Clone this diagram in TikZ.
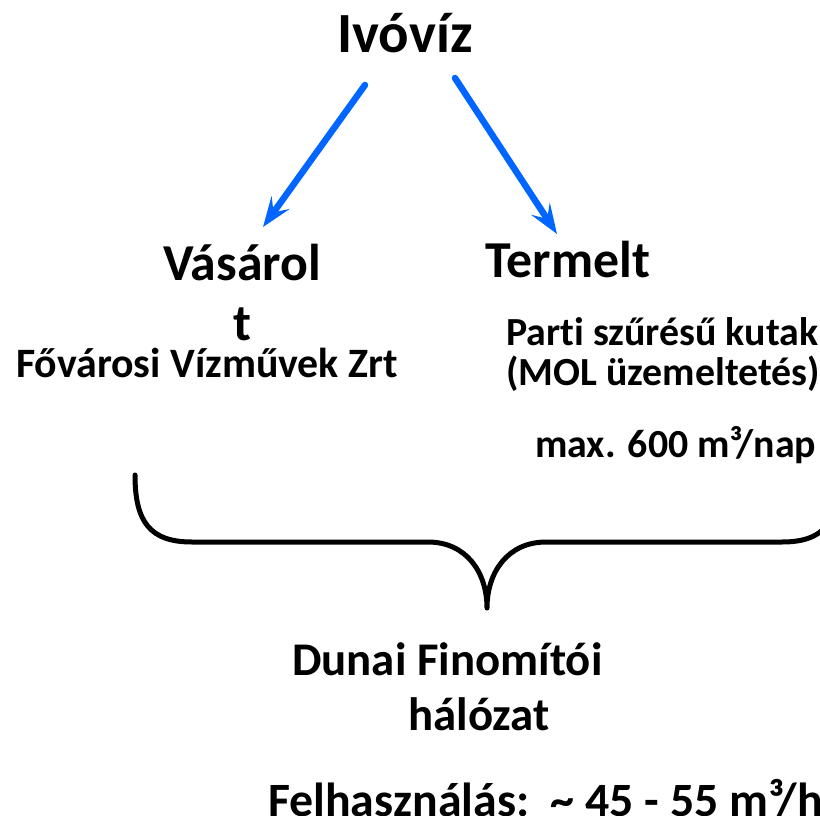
\documentclass[tikz,border=0pt]{standalone}
\usepackage{fontspec}
\setmainfont{Carlito}[Ligatures=NoCommon]
\usetikzlibrary{arrows.meta}
\definecolor{arrowblue}{RGB}{0,102,255}
\begin{document}
\begin{tikzpicture}[x=1bp, y=-1bp, line join=round, line cap=round,
	title/.style={inner sep=0pt, font=\fontsize{57}{64}\selectfont\bfseries},
	head/.style={inner sep=0pt, align=center, font=\fontsize{52}{60}\selectfont\bfseries},
	note/.style={inner sep=0pt, align=left, font=\fontsize{40}{40}\selectfont\bfseries},
	body/.style={inner sep=0pt, font=\fontsize{47}{55}\selectfont\bfseries},
	flow/.style={draw=arrowblue, line width=6.5bp, -{Stealth[length=30bp, width=22bp, inset=12bp]}},
	brace/.style={line width=5bp}]
	\def\W{820} \def\H{816}
	\useasboundingbox (0,0) rectangle (\W,\H);
	\clip (0,0) rectangle (\W,\H);
	% felso szint
	\node[title, anchor=base] (ivoviz) at (405,53) {Ivóvíz};
	\node[head, anchor=base] (vasarolt) at (242,340) {Vásárol\\t};
	\node[head, anchor=base] (termelt) at (568,277) {Termelt};
	\draw[flow] ([shift={(-40,32)}]ivoviz.base) -- ([shift={(21,-113)}]vasarolt.base);
	\draw[flow] ([shift={(50,25)}]ivoviz.base) -- ([shift={(-11,-43)}]termelt.base);
	% forrasok
	\node[note, font=\fontsize{42}{42}\selectfont\bfseries, anchor=base] (fovarosi) at (207,377) {Fővárosi Vízművek Zrt};
	\node[note, anchor=base west] (parti) at (506,385) {Parti szűrésű kutak\\(MOL üzemeltetés)};
	\node[note, anchor=base west] (kapacitas) at (535,457) {max. 600 m³/nap};
	% kapcsos zarojel
	\draw[brace] (135,475) .. controls (135,522) and (150,542) .. (192,542) -- (428,542)
		.. controls (466,542) and (487,572) .. (487,608)
		.. controls (487,572) and (508,542) .. (546,542) -- (782,542)
		.. controls (824,542) and (839,522) .. (839,475);
	% halozat
	\node[body, anchor=base west] (dunai) at (292,675) {Dunai Finomítói};
	\node[body, anchor=base west] (halozat) at (408,730) {hálózat};
	\node[body, font=\fontsize{48}{55}\selectfont\bfseries, anchor=base west] (felhasznalas) at (268,816) {Felhasználás:\ \ \textasciitilde\ 45 - 55 m³/h};
\end{tikzpicture}
\end{document}
